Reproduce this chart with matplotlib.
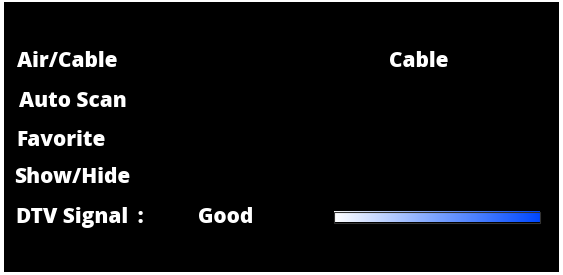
import numpy as np
import matplotlib.pyplot as plt
from matplotlib.colors import LinearSegmentedColormap
from matplotlib.patches import Rectangle

menu_labels = ["Air/Cable", "Auto Scan", "Favorite", "Show/Hide", "DTV Signal :"]
menu_values = ["Cable", "", "", "", "Good"]
signal_level = 1.0  # fraction of bar filled

W, H = 563, 275
fig = plt.figure(figsize=(W / 100, H / 100), dpi=100)
fig.patch.set_facecolor("white")
ax = fig.add_axes([0, 0, 1, 1])
ax.set_xlim(0, W)
ax.set_ylim(H, 0)
ax.axis("off")

ax.add_patch(Rectangle((4, 2), 555, 270, facecolor="black", edgecolor="none"))

font = dict(family="Open Sans", weight=800, color="white", fontsize=15)
label_x = [17, 19, 16, 14, 16]
label_y = [67, 107, 146, 183, 223]
for lab, x, y in zip(menu_labels, label_x, label_y):
    ax.text(x, y, lab.replace(" :", "\u2009 :"), va="baseline", ha="left", **font)

value_pos = [(389, 67), None, None, None, (198, 223)]
for val, pos in zip(menu_values, value_pos):
    if val and pos:
        ax.text(pos[0], pos[1], val, va="baseline", ha="left", **font)

cmap = LinearSegmentedColormap.from_list("sig", ["#ffffff", "#7aa2ff", "#0048ff"])
bx0, bx1, by0, by1 = 334, 540, 212, 222.5
grad = np.linspace(0, 1, 256).reshape(1, -1)
ax.imshow(grad, cmap=cmap, extent=(bx0, bx0 + (bx1 - bx0) * signal_level, by1, by0),
          aspect="auto", interpolation="bilinear", zorder=3)
ax.add_patch(Rectangle((bx0, by0), (bx1 - bx0) * signal_level, by1 - by0,
                       facecolor="none", edgecolor="#333333", linewidth=0.8, zorder=4))
ax.set_xlim(0, W)
ax.set_ylim(H, 0)

fig.savefig("out.png", dpi=100, facecolor=fig.get_facecolor())
